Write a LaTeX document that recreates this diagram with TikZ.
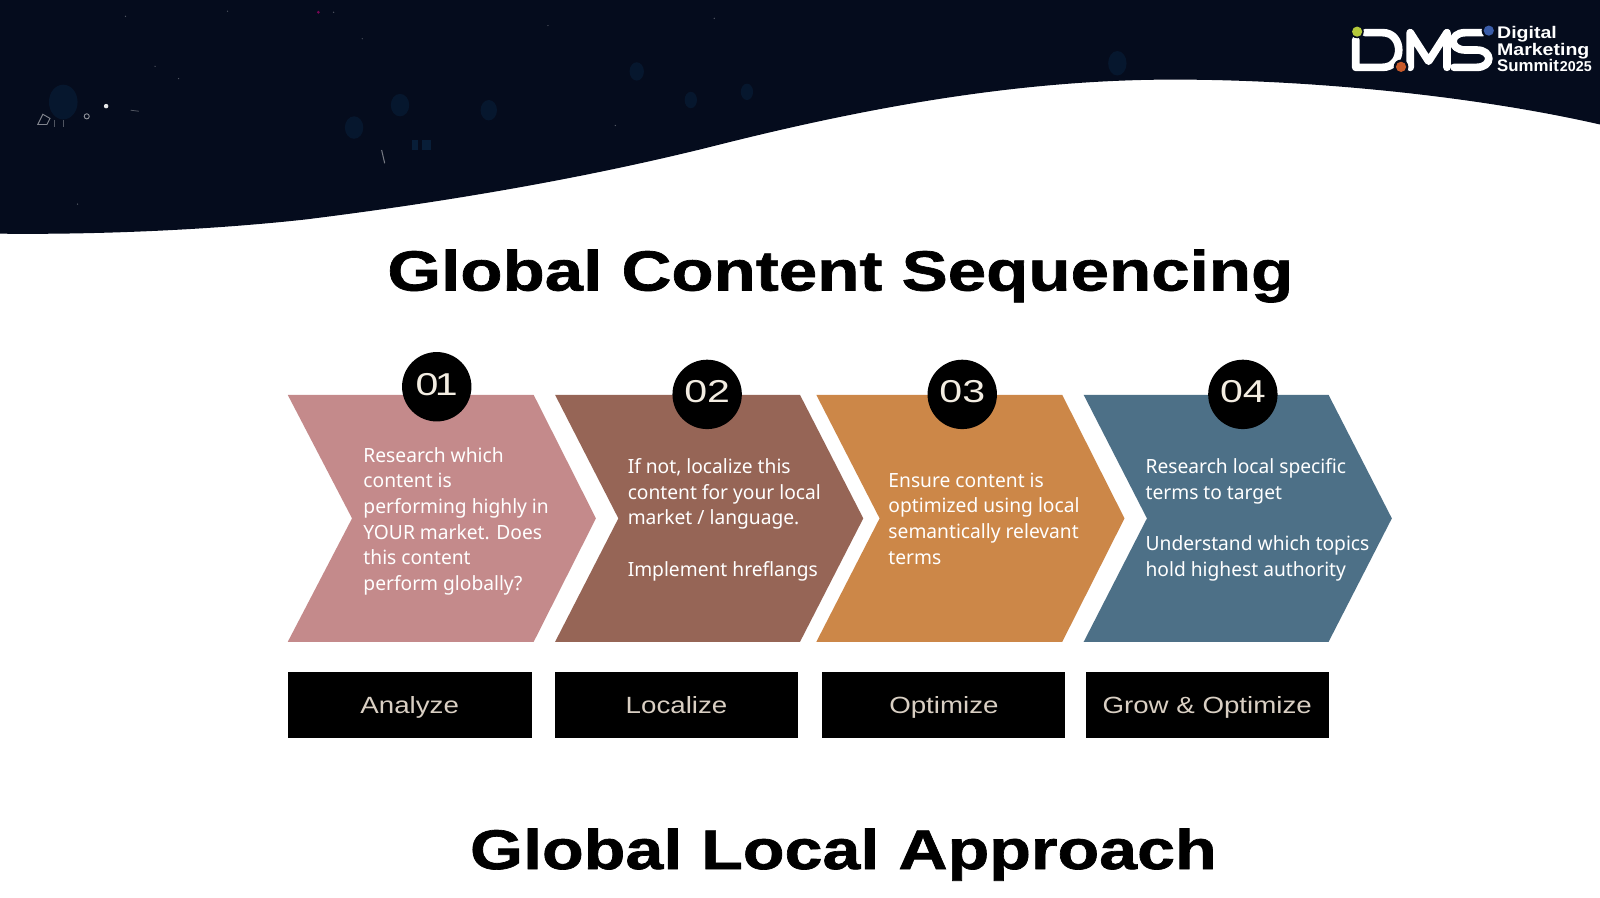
\documentclass[tikz,border=0pt]{standalone}
\usepackage{fontspec}
\setmainfont[FakeStretch=0.98]{Noto Sans}
\newfontfamily\headfont[FakeStretch=1.22,FakeBold=1.2]{Liberation Sans Bold}
\newfontfamily\numfont[FakeStretch=1.3]{Liberation Sans}
\newfontfamily\tagfont[FakeStretch=1.18]{Liberation Sans}
\newfontfamily\logofont[FakeStretch=1.16]{Liberation Sans Bold}
\newfontfamily\logonarrow{Liberation Sans Bold}
\definecolor{night}{HTML}{050C1D}
\definecolor{blob}{HTML}{0A2A4A}
\definecolor{cream}{HTML}{F3EDE2}
\definecolor{tagtext}{HTML}{D9CFC3}
\definecolor{rosec}{HTML}{C48A8B}
\definecolor{brownc}{HTML}{966556}
\definecolor{orangec}{HTML}{CC8748}
\definecolor{bluec}{HTML}{4D7087}
\definecolor{dotgreen}{HTML}{B5C93A}
\definecolor{dotblue}{HTML}{3A5CA8}
\definecolor{dotorange}{HTML}{C85A2A}
\tikzset{
  x=1pt,y=-1pt,
  chev/.style={fill=#1,draw=none},
  numdot/.style={circle,fill=black,minimum size=68pt,inner sep=0pt,text=cream,font=\numfont\fontsize{31}{31}\selectfont},
  tagbox/.style={fill=black,minimum height=64pt,inner sep=0pt,text height=18pt,text depth=2pt,text=tagtext,font=\tagfont\fontsize{23}{23}\selectfont},
  body/.style={anchor=north west,inner sep=0pt,align=left,text=white,font=\fontsize{19.2}{25.2}\selectfont},
  headline/.style={inner sep=0pt,text=black,font=\headfont\fontsize{#1}{#1}\selectfont},
  logoline/.style={anchor=base west,inner sep=0pt,text=white,font=\logofont\fontsize{16.5}{16.5}\selectfont},
  logostroke/.style={draw=white,line width=7.5pt,line join=round,line cap=round},
  bg blob/.style={fill=blob,opacity=.38},
  star/.style={fill=white,opacity=.3}
}
\begin{document}
\begin{tikzpicture}
\useasboundingbox (0,0) rectangle (1568,879.06);
\fill[white] (0,0) rectangle (1568,879.06);
% dark wave
\fill[night] (0,0) -- (1568,0) -- (1568,122)
  .. controls (1450,95) and (1290,78) .. (1150,78)
  .. controls (1000,78) and (850,105) .. (700,143)
  .. controls (560,178) and (420,200) .. (300,215)
  .. controls (200,226) and (90,230) .. (0,229) -- cycle;
% blurred specks of the backdrop
\foreach \x/\y/\a/\b in {62/100/14/17,392/103/9/11,347/125/9/11,479/108/8/10,624/70/7/9,677/98/6/8,732/90/6/8,1095/62/9/12}
  \fill[bg blob] (\x,\y) ellipse ({\a} and {\b});
\fill[blob,opacity=.6] (404,137) rectangle (410,147);
\fill[blob,opacity=.6] (414,137) rectangle (422,147);
\draw[white,opacity=.5,line width=.9pt] (37,122) -- (42,112) -- (49,116) -- (46,122) -- cycle;
\draw[white,opacity=.3,line width=.9pt] (53,118) -- (53,124) (62,118) -- (62,124);
\draw[white,opacity=.55,line width=.9pt] (85,114) circle (2.5);
\fill[white,opacity=.9] (104,104) circle (2.2);
\draw[white,opacity=.3,line width=.8pt] (128,108) -- (136,109);
\draw[white,opacity=.45,line width=1pt] (374,147) -- (377,160);
\fill[star] (123,16) circle (.7) (223,11) circle (.7) (327,12) circle (.7) (152,65) circle (.7) (175,77) circle (.7) (76,200) circle (.7) (355,38) circle (.7) (537,25) circle (.7) (603,123) circle (.7) (700,18) circle (.7);
\fill[magenta,opacity=.5] (312,12) circle (1.5);
% logo
\draw[logostroke] (1328.6,39) -- (1328.6,66) -- (1355,66) .. controls (1376,66) and (1376,32) .. (1355,32) -- (1338,32);
\draw[logostroke] (1382,66) -- (1382,32) -- (1400,60) -- (1418,32) -- (1418,66);
\draw[logostroke] (1453,32) -- (1436,32) .. controls (1420,32) and (1420,49) .. (1436,49) -- (1447,49) .. controls (1463,49) and (1463,66) .. (1447,66) -- (1425,66);
\fill[night] (1373,65.5) circle (7.2);
\fill[night] (1459,30) circle (7);
\fill[night] (1330,31) circle (6.5);
\fill[dotgreen] (1330,31) circle (5);
\fill[dotblue] (1459,30) circle (5);
\fill[dotorange] (1373,65.5) circle (5);
\node[logoline] (logoa) at (1467,38) {Digital};
\node[logoline] (logob) at (1467,54) {Marketing};
\node[logoline] (logoc) at (1467,70) {\logonarrow Summit\hspace{1pt}\fontsize{14}{14}\selectfont 2025};
% titles
\node[headline=55.5] (title) at (823.5,270.5) {Global Content Sequencing};
\node[headline=54.8] (subtitle) at (826.5,837.5) {Global Local Approach};
% chevrons
\path[chev=rosec] (282,387) -- (523,387) -- (584,508) -- (523,629) -- (282,629) -- (345,508) -- cycle;
\path[chev=brownc] (544,387) -- (784,387) -- (846,508) -- (784,629) -- (544,629) -- (606,508) -- cycle;
\path[chev=orangec] (800,387) -- (1041,387) -- (1102,508) -- (1041,629) -- (800,629) -- (862,508) -- cycle;
\path[chev=bluec] (1062,387) -- (1302,387) -- (1364,508) -- (1302,629) -- (1062,629) -- (1124,508) -- cycle;
% numbers
\node[numdot] (n1) at (428,379) {\raisebox{5pt}{0\kern-3.5pt 1}};
\node[numdot] (n2) at (693,386.5) {\raisebox{5pt}{02}};
\node[numdot] (n3) at (943,386.5) {\raisebox{5pt}{03}};
\node[numdot] (n4) at (1218,386.5) {\raisebox{5pt}{04}};
% body text
\node[body] (t1) at (356,438) {Research which\\content is\\performing highly in\\YOUR market. Does\\this content\\perform globally?};
\node[body] (t2) at (615,449) {If not, localize this\\content for your local\\market / language.\\[25.2pt]Implement hreflangs};
\node[body] (t3) at (870.5,463) {Ensure content is\\optimized using local\\semantically relevant\\terms};
\node[body] (t4) at (1122.5,449) {Research local specific\\terms to target\\[25.2pt]Understand which topics\\hold highest authority};
% tag boxes
\node[tagbox,minimum width=239pt] (b1) at (401.5,691) {Analyze};
\node[tagbox,minimum width=238pt] (b2) at (663,691) {Localize};
\node[tagbox,minimum width=238pt] (b3) at (925,691) {Optimize};
\node[tagbox,minimum width=238pt] (b4) at (1183,691) {Grow \& Optimize};
\end{tikzpicture}
\end{document}
